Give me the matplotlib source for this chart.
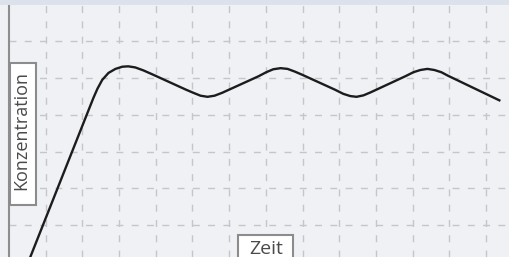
import matplotlib
matplotlib.use("Agg")
import matplotlib.pyplot as plt
from matplotlib.patches import Rectangle

# Data (grid units)
zeit = [0.53, 2.30, 2.41, 2.54, 2.71, 2.90, 3.09, 3.25, 3.44, 3.66, 3.91,
        4.81, 5.02, 5.22, 5.41, 5.60, 5.81,
        6.80, 7.01, 7.20, 7.40, 7.59, 7.78, 7.99,
        8.89, 9.11, 9.30, 9.47, 9.66, 9.85,
        10.80, 11.02, 11.21, 11.40, 11.59, 11.78, 11.97, 13.39]
konzentration = [0.00, 4.46, 4.71, 4.95, 5.14, 5.25, 5.31, 5.32, 5.29, 5.21, 5.10,
                 4.69, 4.60, 4.52, 4.49, 4.52, 4.60,
                 5.05, 5.16, 5.24, 5.27, 5.25, 5.18, 5.09,
                 4.68, 4.57, 4.51, 4.49, 4.53, 4.61,
                 5.05, 5.16, 5.22, 5.25, 5.22, 5.16, 5.06, 4.38]
x_label = "Zeit"
y_label = "Konzentration"

W, H = 510, 257
BG = "#f0f1f5"
fig = plt.figure(figsize=(W / 100, H / 100), dpi=100, facecolor=BG)

# top band
fig.patches.append(Rectangle((0, 1 - 5 / H), 1, 5 / H, transform=fig.transFigure,
                             facecolor="#dbe2ec", edgecolor="none", zorder=0))

ax = fig.add_axes([9 / W, 0, 501 / W, 252 / H])
ax.set_facecolor(BG)
ax.set_xlim(0, 501 / 36.7)
ax.set_ylim(0.128, 6.99)
ax.set_xticks(range(1, 14))
ax.set_yticks(range(1, 7))
ax.tick_params(length=0, labelbottom=False, labelleft=False)
for s in ["top", "right", "bottom"]:
    ax.spines[s].set_visible(False)
ax.spines["left"].set_color("#8e8e8e")
ax.spines["left"].set_linewidth(1.5)
ax.grid(True, color="#c6c6ca", linestyle=(0, (5, 6)), linewidth=1.0)
ax.set_axisbelow(True)

ax.plot(zeit, konzentration, color="#1c1c1c", linewidth=1.7, clip_on=False,
        solid_capstyle="butt", solid_joinstyle="round")

font = "Open Sans"
# y label box
fig.patches.append(Rectangle((10 / W, 1 - 205 / H), 26 / W, 142 / H, transform=fig.transFigure,
                             facecolor="white", edgecolor="#8c8c8c", linewidth=1.5, zorder=5))
fig.text(21 / W, 1 - 131 / H, y_label, rotation=90, ha="center", va="center",
         fontsize=13, family=font, color="#4a4a4a", zorder=6)

# x label box
fig.patches.append(Rectangle((238 / W, -0.05), 55 / W, (1 - 235 / H) + 0.05, transform=fig.transFigure,
                             facecolor="white", edgecolor="#8c8c8c", linewidth=1.5, zorder=5))
fig.text(266 / W, 1 - 249.5 / H, x_label, ha="center", va="center",
         fontsize=14, family=font, color="#4a4a4a", zorder=6)

fig.savefig("out.png", dpi=100, facecolor=BG)
